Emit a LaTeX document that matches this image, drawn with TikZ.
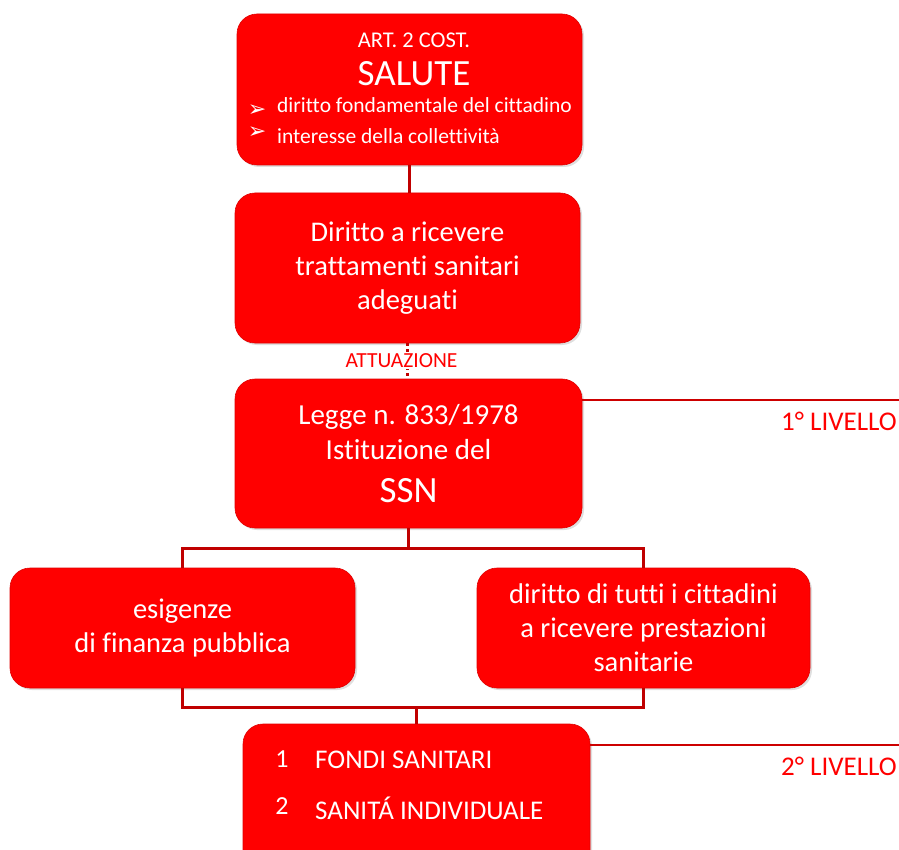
\documentclass[tikz,border=0pt]{standalone}
\usepackage{fontspec}
\setmainfont{Carlito}[Ligatures={NoCommon}]
\newfontfamily\dejavu{DejaVu Sans}
\usetikzlibrary{positioning,calc,shadows}
\definecolor{boxred}{RGB}{255,0,0}
\definecolor{linkred}{RGB}{192,0,0}
\definecolor{lvlred}{RGB}{205,0,0}

\begin{document}
\begin{tikzpicture}[
    x=1pt, y=-1pt,
    box/.style={fill=boxred, draw=boxred!88!black, line width=0.6pt, rounded corners=20pt, inner sep=0pt, text=white, align=center, font=\fontsize{28.5}{34}\selectfont, drop shadow={opacity=0.25, shadow xshift=2pt, shadow yshift=-2pt}},
    txt/.style={text=white, inner sep=0pt},
    bullet/.style={text=white, inner sep=0pt, text height=9pt, text depth=0pt, font=\dejavu\fontsize{22}{24}\selectfont},
    link/.style={draw=linkred, line width=2.8pt},
    lvl/.style={draw=lvlred, line width=1.8pt},
    lvltxt/.style={text=boxred, font=\fontsize{27}{30}\selectfont, anchor=east, inner sep=0pt}
]
\useasboundingbox (0,0) rectangle (899,850);
% boxes
\node[box, minimum width=345pt, minimum height=151pt] (salute) at (409.5,89.5) {};
\node[box, minimum width=345pt, minimum height=150pt] (diritto) at (407.5,268) {Diritto a ricevere\\ trattamenti sanitari\\ adeguati};
\node[box, minimum width=347pt, minimum height=149pt, font=\fontsize{29}{35}\selectfont] (ssn) at (408.5,453.5) {Legge n. 833/1978\\ Istituzione del\\[8pt] {\fontsize{37}{42}\selectfont SSN}};
\node[box, minimum width=345pt, minimum height=120pt] (esig) at (182.5,628) {esigenze\\ di finanza pubblica};
\node[box, minimum width=333pt, minimum height=120pt] (prest) at (643.5,628) {diritto di tutti i cittadini\\ a ricevere prestazioni\\ sanitarie};
\node[box, minimum width=347pt, minimum height=150pt] (fondi) at (416.5,799) {};
% texts of the first box
\node[txt, font=\fontsize{22.5}{26}\selectfont] (art) at (414,40) {ART. 2 COST.};
\node[txt, font=\fontsize{37}{42}\selectfont] (salutetxt) at (414,74) {SALUTE};
\node[txt, font=\fontsize{21.5}{25}\selectfont, anchor=west] (bul1) at (277,105) {diritto fondamentale del cittadino};
\node[txt, font=\fontsize{21.5}{25}\selectfont, anchor=west] (bul2) at (277,136) {interesse della collettività};
\node[bullet] (arr1) at (257,112) {➢};
\node[bullet] (arr2) at (257,134) {➢};
% texts of the last box
\node[txt, font=\fontsize{26}{30}\selectfont] (num1) at (282,759) {1};
\node[txt, font=\fontsize{27}{30}\selectfont, anchor=west] (item1) at (315,760) {FONDI SANITARI};
\node[txt, font=\fontsize{26}{30}\selectfont] (num2) at (282,806) {2};
\node[txt, font=\fontsize{27}{30}\selectfont, anchor=west] (item2) at (315,808) {SANITÁ INDIVIDUALE};
% connectors
\draw[link] (salute.south) -- (salute.south |- diritto.north);
\draw[link, line width=2.4pt, dash pattern=on 3pt off 3pt] (diritto.south) -- node[fill=white, text=boxred, font=\fontsize{21.5}{24}\selectfont, inner sep=1pt, xshift=-6pt] (attua) {ATTUAZIONE} (diritto.south |- ssn.north);
\draw[link] (ssn.south) -- ++(0,20) -| (esig.north);
\draw[link] (ssn.south) -- ++(0,20) -| (prest.north);
\coordinate (join) at ($(esig.south)+(0,19)$);
\draw[link] (esig.south) -- (join) -| (prest.south);
\draw[link] (fondi.north) -- (fondi.north |- join);
% levels
\coordinate (lvl1end) at (899,400);
\coordinate (lvl2end) at (899,745);
\draw[lvl] (ssn.north east |- lvl1end) -- (lvl1end);
\draw[lvl] (fondi.north east |- lvl2end) -- (lvl2end);
\node[lvltxt] (liv1) at (897,421) {1° LIVELLO};
\node[lvltxt] (liv2) at (897,766) {2° LIVELLO};
\end{tikzpicture}
\end{document}
